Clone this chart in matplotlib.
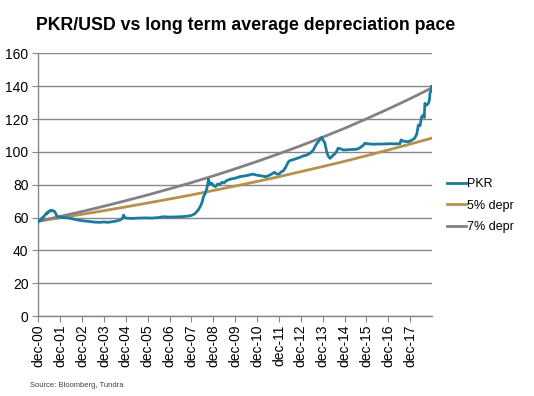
import matplotlib
matplotlib.use("Agg")
from matplotlib import pyplot as plt
from matplotlib import font_manager

# x is years after dec-00
tick_labels = ["dec-%02d" % y for y in range(0, 18)]
tick_pos = list(range(0, 18))

pkr_t = [0.00, 0.04, 0.08, 0.13, 0.17, 0.21, 0.25, 0.29, 0.33, 0.38, 0.42, 0.46, 0.50, 0.54,
         0.58, 0.63, 0.67, 0.71, 0.75, 0.79, 0.83, 0.88, 0.92, 1.00, 1.10, 1.25, 1.40, 1.55,
         1.70, 1.85, 2.00, 2.20, 2.40, 2.60, 2.80, 3.00, 3.20, 3.40, 3.60, 3.75, 3.85, 3.90,
         3.95, 4.05, 4.30, 4.60, 4.90, 5.20, 5.50, 5.70, 6.00, 6.30, 6.60, 6.90, 7.00, 7.15,
         7.30, 7.40, 7.45, 7.50, 7.55, 7.60, 7.65, 7.72, 7.78, 7.82, 7.85, 7.92, 8.00, 8.10,
         8.20, 8.30, 8.40, 8.50, 8.60, 8.80, 9.00, 9.20, 9.40, 9.60, 9.80, 10.00, 10.20, 10.40,
         10.60, 10.80, 10.90, 11.00, 11.10, 11.20, 11.30, 11.43, 11.50, 11.70, 11.96, 12.10,
         12.27, 12.45, 12.57, 12.70, 12.80, 12.90, 12.95, 13.05, 13.10, 13.18, 13.25, 13.33,
         13.40, 13.48, 13.60, 13.70, 13.80, 13.94, 14.10, 14.30, 14.55, 14.70, 14.85, 14.93,
         15.10, 15.30, 15.47, 15.70, 16.07, 16.30, 16.53, 16.58, 16.70, 16.90, 17.05, 17.20,
         17.30, 17.37, 17.45, 17.52, 17.60, 17.64, 17.67, 17.75, 17.83, 17.88, 17.90, 17.95,
         17.98]
pkr_v = [57.5, 58.3, 58.0, 59.2, 59.0, 60.2, 60.5, 61.3, 61.8, 62.9, 62.5, 63.6, 63.8, 64.3,
         64.0, 64.4, 64.2, 63.9, 63.6, 62.5, 61.5, 60.6, 60.2, 60.3, 60.0, 59.9, 59.7, 59.3,
         58.8, 58.4, 58.1, 57.8, 57.5, 57.2, 57.1, 57.3, 57.1, 57.5, 58.0, 58.6, 59.5, 61.5,
         60.0, 59.6, 59.5, 59.7, 59.8, 59.7, 60.0, 60.5, 60.3, 60.4, 60.6, 61.0, 61.3, 62.3,
         64.5, 66.6, 68.2, 70.0, 72.7, 74.0, 75.5, 78.5, 83.3, 81.0, 80.5, 81.0, 79.6, 78.8,
         80.5, 80.2, 81.5, 81.2, 82.5, 83.5, 84.0, 84.9, 85.3, 85.8, 86.5, 85.8, 85.4, 84.9,
         86.0, 87.6, 86.5, 86.5, 87.8, 88.5, 90.5, 94.0, 94.7, 95.5, 96.7, 97.5,
         98.1, 99.5, 101.2, 104.5, 106.2, 108.0, 108.9, 106.5, 105.3, 100.1, 97.5, 96.1,
         97.0, 98.1, 99.5, 102.2, 102.0, 101.2, 101.3, 101.5, 101.6, 102.5, 104.0, 105.3,
         104.9, 104.7, 104.8, 104.8, 105.0, 104.9, 105.0, 107.3, 106.5, 106.2, 107.0, 108.3,
         111.0, 116.4, 116.0, 121.5, 122.5, 121.0, 129.6, 128.5, 129.6, 132.0, 135.7, 137.5,
         140.0]

depr_t = list(range(0, 18)) + [17.98]
depr5_v = [57.8, 59.9, 62.0, 64.2, 66.5, 68.9, 71.3, 73.8, 76.5, 79.2, 82.0, 84.9, 88.0,
           91.1, 94.3, 97.7, 101.2, 104.8, 108.4]
depr7_v = [57.8, 60.7, 63.7, 66.9, 70.3, 73.8, 77.5, 81.3, 85.4, 89.7, 94.2, 98.9, 103.8,
           109.0, 114.4, 120.2, 126.2, 132.5, 139.0]

plt.rcParams["font.family"] = ["Liberation Sans", "DejaVu Sans"]

installed = {f.name for f in font_manager.fontManager.ttflist}
if "Liberation Sans Narrow" in installed:
    title_font, title_size = "Liberation Sans Narrow", 15.5
else:
    title_font, title_size = "Liberation Sans", 12.8

fig = plt.figure(figsize=(5.34, 3.96), dpi=100)
ax = fig.add_axes([0.0717, 0.202, 0.7367, 0.6629])

ax.plot(pkr_t, pkr_v, color="#1c7a9c", lw=2.0, label="PKR", zorder=3)
ax.plot(depr_t, depr5_v, color="#b5924c", lw=2.0, label="5% depr", zorder=2)
ax.plot(depr_t, depr7_v, color="#858085", lw=2.0, label="7% depr", zorder=2)

ax.set_xlim(0, 17.98)
ax.set_ylim(0, 160)
ax.set_yticks(range(0, 161, 20))
ax.set_xticks(tick_pos)
ax.set_xticklabels(tick_labels, rotation=90)
ax.grid(axis="y", color="#878787", lw=1.0)
ax.set_axisbelow(True)
for s in ["top", "right"]:
    ax.spines[s].set_visible(False)
for s in ["left", "bottom"]:
    ax.spines[s].set_color("#878787")
    ax.spines[s].set_linewidth(1.0)
ax.tick_params(axis="y", length=4, color="#878787", labelsize=10, pad=3)
ax.tick_params(axis="x", length=4, color="#878787", labelsize=10, pad=2)

ax.legend(loc="center left", bbox_to_anchor=(1.01, 0.42), frameon=False, fontsize=9,
          handlelength=1.5, handletextpad=0.1, labelspacing=0.75)

fig.text(0.068, 0.935, "PKR/USD vs long term average depreciation pace",
         family=[title_font, "DejaVu Sans"], fontsize=title_size, fontweight="bold",
         va="center", ha="left")
fig.text(0.056, 0.022, "Source: Bloomberg, Tundra", fontsize=5.5, color="#404040")

fig.savefig("out.png", dpi=100)
